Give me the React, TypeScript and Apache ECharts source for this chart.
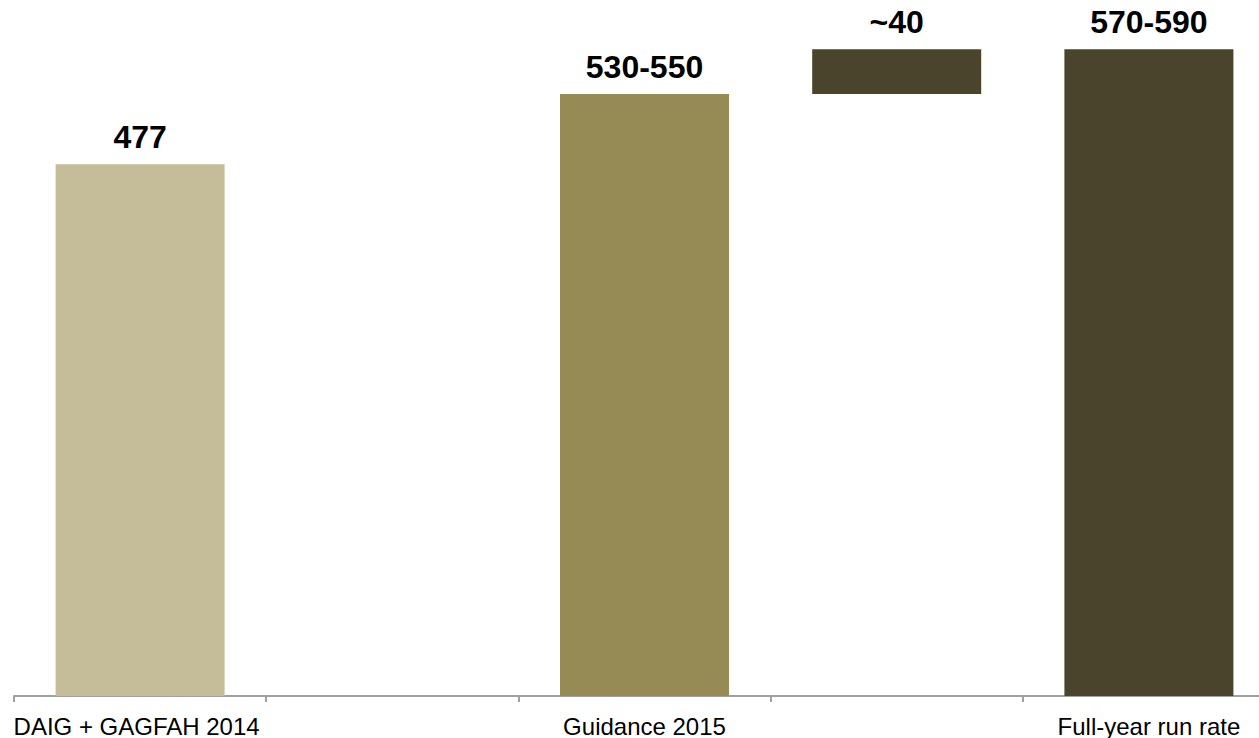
import React, { useEffect, useRef } from "react";
import * as echarts from "echarts";

const categories = ["DAIG + GAGFAH 2014", "", "Guidance 2015", "", "Full-year run rate"];
const baseValues = [0, 0, 0, 540, 0];
const barValues: (number | null)[] = [477, null, 540, 40, 580];
const valueLabels = ["477", "", "530-550", "~40", "570-590"];
const barColors = ["#C5BD99", "#968A55", "#968A55", "#4A442C", "#4A442C"];

export default function App() {
  const ref = useRef<HTMLDivElement>(null);
  useEffect(() => {
    if (!ref.current) return;
    const chart = echarts.init(ref.current, null, { renderer: "svg" });
    chart.setOption({
      animation: false,
      textStyle: { fontFamily: "Liberation Sans, Arial, sans-serif" },
      grid: { left: 14, width: 1261, top: 27, bottom: 42, containLabel: false },
      xAxis: {
        type: "category",
        data: categories.map((c, i) =>
          i === 0 ? { value: c, textStyle: { padding: [0, 7, 0, 0] } } : c
        ),
        axisLine: { lineStyle: { color: "#A0A0A0", width: 2 } },
        axisTick: { show: true, length: 6, lineStyle: { color: "#A0A0A0", width: 2 } },
        axisLabel: {
          color: "#000",
          fontSize: 24,
          margin: 18,
          interval: 0,
          fontFamily: "Liberation Sans, Arial, sans-serif",
        },
      },
      yAxis: {
        type: "value",
        min: 0,
        max: 600,
        show: false,
        splitLine: { show: false },
      },
      series: [
        {
          type: "bar",
          stack: "w",
          data: baseValues,
          barWidth: 169,
          itemStyle: { color: "transparent" },
          silent: true,
        },
        {
          type: "bar",
          stack: "w",
          barWidth: 169,
          data: barValues.map((v, i) => ({
            value: v,
            itemStyle: { color: barColors[i] },
          })),
          label: {
            show: true,
            position: "top",
            distance: 11,
            color: "#000",
            fontSize: 32,
            fontWeight: "bold",
            fontFamily: "Liberation Sans, Arial, sans-serif",
            formatter: (p: any) => valueLabels[p.dataIndex],
          },
        },
      ],
    });
    return () => chart.dispose();
  }, []);
  return (
    <div
      style={{ position: "absolute", left: 0, top: 0, width: 1259, height: 738, overflow: "hidden" }}
    >
      <div ref={ref} style={{ width: 1290, height: 738 }} />
    </div>
  );
}
